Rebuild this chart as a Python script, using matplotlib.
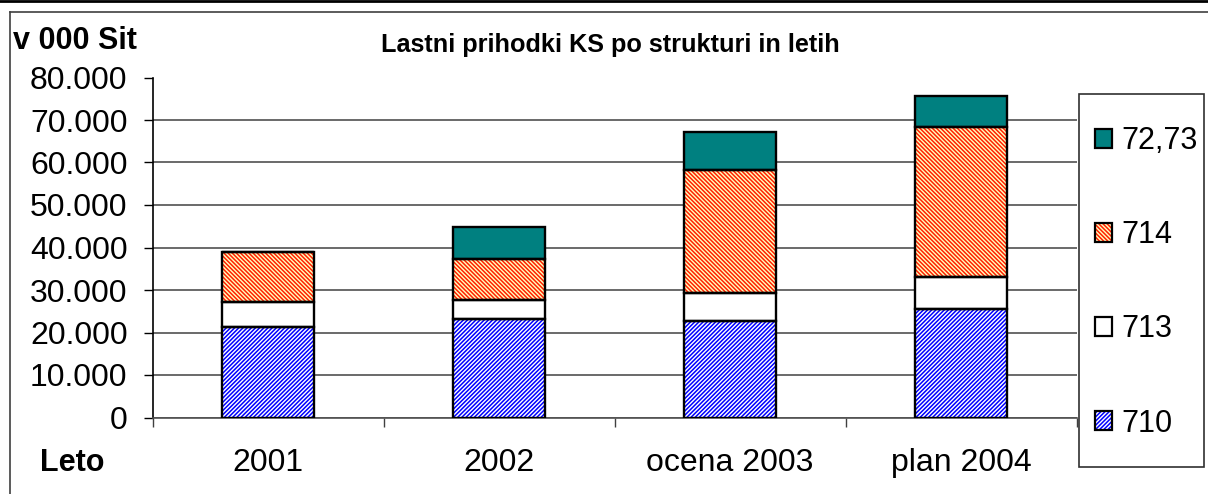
import matplotlib
matplotlib.use('Agg')
import matplotlib.pyplot as plt
from matplotlib.patches import Patch, Rectangle
from matplotlib.lines import Line2D
from matplotlib.legend_handler import HandlerTuple
from matplotlib.ticker import FixedLocator, FuncFormatter

# podatki (v 000 Sit)
leta = ['2001', '2002', 'ocena 2003', 'plan 2004']
k710 = [21300, 23200, 22600, 25600]
k713 = [5900, 4400, 6800, 7400]
k714 = [11800, 9600, 28800, 35400]
k7273 = [0, 7700, 9000, 7200]

plt.rcParams['font.family'] = ['Liberation Sans', 'DejaVu Sans']
plt.rcParams['hatch.linewidth'] = 1.1

W, H = 1208, 494
fig = plt.figure(figsize=(W / 100, H / 100), dpi=100)
ax = fig.add_axes([152.5 / W, 1 - 417.5 / H, (1076.5 - 152.5) / W, 340 / H])

x = list(range(len(leta)))
sirina = 0.4

# (ime, vrednosti, barva polnila, barva vzorca, vzorec)
serije = [
    ('710', k710, 'white', '#0000FF', '////////'),
    ('713', k713, 'white', 'black', None),
    ('714', k714, '#FFFFC0', '#FF2000', '\\\\\\\\\\\\\\\\'),
    ('72,73', k7273, '#008080', 'black', None),
]

spodaj = [0] * len(leta)
handles = []
for ime, vals, fc, hc, hatch in serije:
    ax.bar(x, vals, sirina, bottom=spodaj, color=fc, edgecolor=hc, hatch=hatch,
           linewidth=0, zorder=2)
    ax.bar(x, vals, sirina, bottom=spodaj, fill=False, edgecolor='black',
           linewidth=1.7, zorder=3)
    handles.append((Patch(facecolor=fc, edgecolor=hc, hatch=hatch, linewidth=0),
                    Patch(fill=False, edgecolor='black', linewidth=1.6)))
    spodaj = [a + b for a, b in zip(spodaj, vals)]

ax.set_xlim(-0.5, len(leta) - 0.5)
ax.set_ylim(0, 80000)
ax.yaxis.set_major_locator(FixedLocator(range(0, 80001, 10000)))
ax.yaxis.set_major_formatter(FuncFormatter(lambda v, p: f'{v:,.0f}'.replace(',', '.')))
ax.set_xticks(x)
ax.set_xticklabels(leta)
ax.xaxis.set_minor_locator(FixedLocator([i - 0.5 for i in range(len(leta) + 1)]))

ax.tick_params(axis='y', which='major', direction='out', length=6.5, width=1,
               labelsize=23, pad=11.5, color='black')
ax.tick_params(axis='x', which='major', length=0, labelsize=23, pad=22)
ax.tick_params(axis='x', which='minor', direction='out', length=6.5, width=1,
               color='#404040')

ax.yaxis.grid(True, color='#505050', linewidth=1.2, zorder=0)
ax.set_axisbelow(True)
fig.canvas.draw()
ax.yaxis.get_gridlines()[-1].set_visible(False)

for s in ['top', 'right']:
    ax.spines[s].set_visible(False)
ax.spines['left'].set_color('black')
ax.spines['left'].set_linewidth(1.2)
ax.spines['bottom'].set_color('#505050')
ax.spines['bottom'].set_linewidth(1.2)

# besedila
fig.text(610.5 / W, 1 - 52 / H, 'Lastni prihodki KS po strukturi in letih',
         ha='center', va='baseline', fontsize=18.2, fontweight='bold')
fig.text(13 / W, 1 - 49 / H, 'v 000 Sit', ha='left', va='baseline',
         fontsize=22, fontweight='bold')
fig.text(40 / W, 1 - 471 / H, 'Leto', ha='left', va='baseline',
         fontsize=22, fontweight='bold')

# legenda
fig.add_artist(Rectangle((1079 / W, 1 - 467 / H), 125 / W, 373 / H,
                         transform=fig.transFigure, facecolor='white',
                         edgecolor='#303030', linewidth=1.2))
leg = fig.legend(handles[::-1], [s[0] for s in serije][::-1],
                 handler_map={tuple: HandlerTuple(ndivide=1)},
                 loc='upper left', bbox_to_anchor=(1095 / W, 1 - 126 / H),
                 bbox_transform=fig.transFigure, frameon=False, fontsize=22,
                 borderpad=0, borderaxespad=0, labelspacing=2.1,
                 handlelength=0.57, handleheight=0.57, handletextpad=0.3)
leg.set_zorder(5)

# okvir strani
fig.add_artist(Line2D([0, 1], [1 - 1 / H, 1 - 1 / H], transform=fig.transFigure,
                      color='black', linewidth=2))
fig.add_artist(Line2D([9.5 / W, 1], [1 - 12 / H, 1 - 12 / H], transform=fig.transFigure,
                      color='#404040', linewidth=1.2))
fig.add_artist(Line2D([9.5 / W, 9.5 / W], [0, 1 - 12 / H], transform=fig.transFigure,
                      color='#404040', linewidth=1.2))

fig.savefig('out.png', dpi=100)
